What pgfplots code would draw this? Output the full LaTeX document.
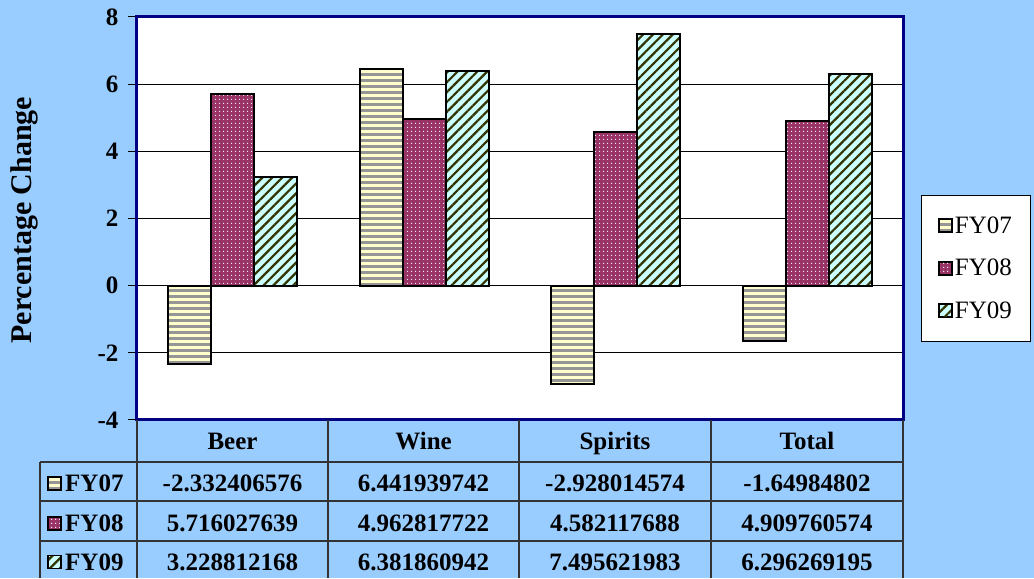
\documentclass[border=0pt]{standalone}
\usepackage{fontspec}
\setmainfont{Liberation Serif}
\usepackage{pgfplots}
\pgfplotsset{compat=1.18}
\usetikzlibrary{patterns.meta}
\definecolor{bgblue}{RGB}{153,204,255}
\definecolor{navyb}{RGB}{0,0,128}
\definecolor{fyA}{RGB}{255,255,204}
\definecolor{fyAs}{RGB}{150,150,150}
\definecolor{fyB}{RGB}{153,51,102}
\definecolor{fyC}{RGB}{204,255,255}
\definecolor{fyCs}{RGB}{51,51,0}
\tikzset{
 s07/.style={preaction={fill=fyA}, pattern={Lines[angle=0,distance=6pt,line width=2.5pt]}, pattern color=fyAs},
 s08/.style={preaction={fill=fyB}, pattern={Dots[distance=4pt,radius=0.8pt]}, pattern color=white},
 s09/.style={preaction={fill=fyC}, pattern={Lines[angle=45,distance=7pt,line width=2.2pt]}, pattern color=fyCs},
}
\newcommand{\tfont}{\fontsize{25}{30}\selectfont\bfseries}
\begin{document}
\begin{tikzpicture}
\fill[bgblue] (0,0) rectangle (1034pt,578pt);
\begin{axis}[at={(137pt,158pt)}, anchor=south west, width=766pt, height=403pt, scale only axis,
 xmin=-0.5, xmax=3.5, ymin=-4, ymax=8, ytick={-4,-2,...,8}, xtick=\empty,
 ytick pos=left,
 ybar=0pt, bar width=43pt,
 axis background/.style={fill=white},
 axis line style={draw=navyb, line width=3pt},
 ymajorgrids, major grid style={black, line width=0.8pt},
 tick align=outside, major tick length=9pt, ytick style={black, line width=1pt},
 /pgf/number format/assume math mode=true,
 yticklabel style={font=\tfont, xshift=-6pt},
 ylabel={Percentage Change},
 ylabel style={font=\fontsize{30}{36}\selectfont\bfseries, at={(axis description cs:-0.147,0.496)}, anchor=center},
 legend style={at={(axis description cs:1.0235,0.558)}, anchor=north west, draw=black, line width=0.8pt, fill=white,
   font=\fontsize{25}{30}\selectfont, row sep=20.5pt, inner xsep=17pt, inner ysep=19pt},
 legend cell align=left,
 legend image code/.code={\draw[#1, line width=1.5pt] (0pt,-6.5pt) rectangle (13pt,6.5pt);},
]
\addplot[s07, draw=black, line width=2pt] coordinates {(0,-2.332406576) (1,6.441939742) (2,-2.928014574) (3,-1.64984802)};
\addplot[s08, draw=black, line width=2pt] coordinates {(0,5.716027639) (1,4.962817722) (2,4.582117688) (3,4.909760574)};
\addplot[s09, draw=black, line width=2pt] coordinates {(0,3.228812168) (1,6.381860942) (2,7.495621983) (3,6.296269195)};
\legend{FY07,FY08,FY09}
\end{axis}
% data table below the chart
\begin{scope}[draw={rgb,255:red,51;green,51;blue,51}, line width=1.2pt]
\foreach \x in {137,328,519,711,903} \draw (\x pt,0pt) -- (\x pt,158pt);
\draw (40pt,0pt) -- (40pt,116pt);
\foreach \y in {116,77,37} \draw (40pt,\y pt) -- (903pt,\y pt);
\end{scope}
\foreach \x/\t in {232.5/Beer,423.5/Wine,615/Spirits,807/Total}
  \node[font=\tfont, anchor=base] at (\x pt,128pt) {\t};
\foreach \y/\s/\n/\a/\b/\c/\d in {
  86.5/s07/FY07/-2.332406576/6.441939742/-2.928014574/-1.64984802,
  46.5/s08/FY08/5.716027639/4.962817722/4.582117688/4.909760574,
  8/s09/FY09/3.228812168/6.381860942/7.495621983/6.296269195}{
  \draw[\s, draw=black, line width=1.5pt] (48pt,\y pt+1.5pt) rectangle (61pt,\y pt+14.5pt);
  \node[font=\tfont, anchor=base west, inner sep=0pt] at (65pt,\y pt) {\n};
  \node[font=\tfont, anchor=base] at (232.5pt,\y pt) {\a};
  \node[font=\tfont, anchor=base] at (423.5pt,\y pt) {\b};
  \node[font=\tfont, anchor=base] at (615pt,\y pt) {\c};
  \node[font=\tfont, anchor=base] at (807pt,\y pt) {\d};
}
\end{tikzpicture}
\end{document}
